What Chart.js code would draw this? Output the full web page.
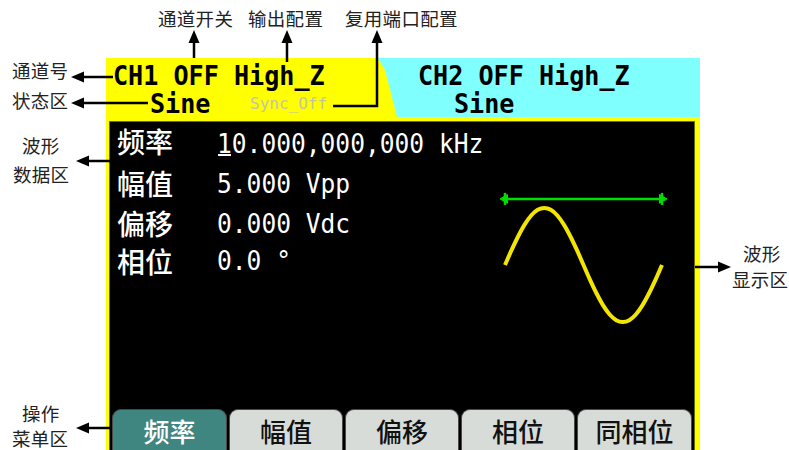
<!DOCTYPE html>
<html>
<head>
<meta charset="utf-8">
<script src="https://cdn.jsdelivr.net/npm/chart.js@4"></script>
<style>
body { margin: 0; width: 789px; height: 450px; background: #fff; position: relative; overflow: hidden; font-family: "Noto Sans CJK SC", sans-serif; }
.a { position: absolute; white-space: nowrap; }
.note { color: #222; font-size: 18.5px; line-height: 18.5px; letter-spacing: 0.3px; }
.mono { font-family: "DejaVu Sans Mono", monospace; transform-origin: 0 0; }
.hd { font-size: 27px; line-height: 27px; font-weight: bold; color: #000; transform: scaleX(0.93); }
.val { font-size: 27px; line-height: 27px; color: #fff; transform: scaleX(0.91); }
.lbl { color: #fff; font-size: 28px; line-height: 28px; font-weight: 500; }
.btn { position: absolute; top: 409px; height: 41px; line-height: 41px; box-sizing: border-box; border: 1px solid #4a4a4a; border-bottom: none; border-radius: 9px 9px 0 0; background: #d8dcd8; color: #111; font-size: 26px; font-weight: 500; text-align: center; }
.btn.on { background: #3f8580; color: #fff; }
</style>
</head>
<body>
<div class="a" style="left:106px;top:58px;width:594px;height:392px;background:#ffff00"></div>
<div class="a" style="left:375px;top:58px;width:325px;height:59px;background:#80ffff;clip-path:polygon(2px 0,100% 0,100% 100%,22px 100%,10px 12px,6px 5px)"></div>
<div class="a" style="left:110px;top:122px;width:584px;height:328px;background:#000;box-shadow:0 0 0 1px #6b6b00"></div>

<div id="ui"></div>
<canvas id="wave" class="a" width="177" height="150" style="left:495px;top:190px"></canvas>

<svg class="a" style="left:0;top:0" width="789" height="450">
  <g stroke="#000" stroke-width="2.5" fill="none">
    <line x1="194" y1="58" x2="194" y2="40"/>
    <line x1="287" y1="62" x2="287" y2="40"/>
    <polyline points="333,106 377,106 377,40"/>
    <line x1="113" y1="77" x2="80" y2="77"/>
    <line x1="148" y1="103" x2="80" y2="103"/>
    <line x1="110" y1="161" x2="85" y2="161"/>
    <line x1="695" y1="267" x2="722" y2="267"/>
    <line x1="112" y1="428" x2="85" y2="428"/>
  </g>
  <g fill="#000">
    <polygon points="194,30 188.5,43 199.5,43"/>
    <polygon points="287,30 281.5,43 292.5,43"/>
    <polygon points="377,30 371.5,43 382.5,43"/>
    <polygon points="71,77 84,71.5 84,82.5"/>
    <polygon points="71,103 84,97.5 84,108.5"/>
    <polygon points="76,161 89,155.5 89,166.5"/>
    <polygon points="731,267 718,261.5 718,272.5"/>
    <polygon points="76,428 89,422.5 89,433.5"/>
  </g>
</svg>

<script>
// waveform display: one period of the sine (volts)
const phaseDeg = [0, 15, 30, 45, 60, 75, 90, 105, 120, 135, 150, 165, 180,
                  195, 210, 225, 240, 255, 270, 285, 300, 315, 330, 345, 360];
const sineVolts = [0, 0.65, 1.25, 1.77, 2.17, 2.42, 2.5, 2.42, 2.17, 1.77, 1.25, 0.65, 0,
                   -0.65, -1.25, -1.77, -2.17, -2.42, -2.5, -2.42, -2.17, -1.77, -1.25, -0.65, 0];
// green period marker above the wave
const periodMarks = [0, 360];
const markLevel = [2.9, 2.9];

// screen texts
const paramNames = ['频率', '幅值', '偏移', '相位'];
const paramValues = ['10.000,000,000 kHz', '5.000 Vpp', '0.000 Vdc', '0.0 °'];
const menuItems = ['频率', '幅值', '偏移', '相位', '同相位'];
const notes = ['通道开关', '输出配置', '复用端口配置', '通道号', '状态区', '波形', '数据区', '波形', '显示区', '操作', '菜单区'];

const ui = document.getElementById('ui');
function put(cls, text, left, top) {
    const d = document.createElement('div');
    d.className = 'a ' + cls;
    d.textContent = text;
    d.style.left = left + 'px';
    d.style.top = top + 'px';
    ui.appendChild(d);
    return d;
}

// annotations
const notePos = [[158, 9], [248, 9], [345, 9], [12, 61], [12, 91], [22, 136], [13, 165], [743, 244], [732, 270], [22, 404], [12, 429]];
notes.forEach((t, i) => put('note', t, notePos[i][0], notePos[i][1]));

// status bar
put('mono hd', 'CH1 OFF High_Z', 113, 62);
put('mono hd', 'Sine', 150, 90);
const sync = put('mono', 'Sync_Off', 250, 96);
sync.style.fontSize = '16px';
sync.style.lineHeight = '16px';
sync.style.color = '#c4c4a8';
put('mono hd', 'CH2 OFF High_Z', 418, 62);
put('mono hd', 'Sine', 454, 90);

// data area
const rowBase = [153, 193, 233, 270];
const rowMid = [142, 184, 224, 262];
paramNames.forEach((t, i) => put('lbl', t, 117, rowMid[i] - 15.5));
paramValues.forEach((t, i) => put('mono val', t, 217, rowBase[i] - 23));
const cur = document.createElement('div');
cur.className = 'a';
cur.style.cssText = 'left:218px;top:154px;width:13px;height:2px;background:#fff';
ui.appendChild(cur);

// menu
const btnLeft = [112, 229, 345, 461, 577];
const btnWidth = [115, 114, 114, 114, 115];
menuItems.forEach((t, i) => {
    const b = put('btn' + (i === 0 ? ' on' : ''), t, btnLeft[i], 409);
    b.style.width = btnWidth[i] + 'px';
});

const ctx = document.getElementById('wave').getContext('2d');
const waveChart = new Chart(ctx, {
    type: 'line',
    data: {
        datasets: [{
            data: phaseDeg.map((x, i) => ({ x: x, y: sineVolts[i] })),
            borderColor: '#f2e600',
            borderWidth: 4,
            pointRadius: 0,
            cubicInterpolationMode: 'monotone',
            clip: false
        }, {
            data: periodMarks.map((x, i) => ({ x: x, y: markLevel[i] })),
            borderColor: '#00dd00',
            borderWidth: 2.5,
            pointStyle: 'line',
            pointRotation: 90,
            pointRadius: 6,
            pointBorderWidth: 2.5,
            pointBorderColor: '#00dd00',
            clip: false
        }, {
            data: periodMarks.map((x, i) => ({ x: x, y: markLevel[i] })),
            showLine: false,
            pointStyle: 'triangle',
            pointRotation: [-90, 90],
            pointRadius: 5,
            pointBackgroundColor: '#00dd00',
            pointBorderColor: '#00dd00',
            clip: false
        }]
    },
    options: {
        responsive: false,
        animation: false,
        events: [],
        layout: { autoPadding: false, padding: { left: 10, right: 10, top: 0, bottom: 0 } },
        plugins: { legend: { display: false }, tooltip: { enabled: false } },
        scales: {
            x: { type: 'linear', min: 0, max: 360, display: false },
            y: { min: -3.29, max: 3.29, display: false }
        }
    }
});
</script>
</body>
</html>
